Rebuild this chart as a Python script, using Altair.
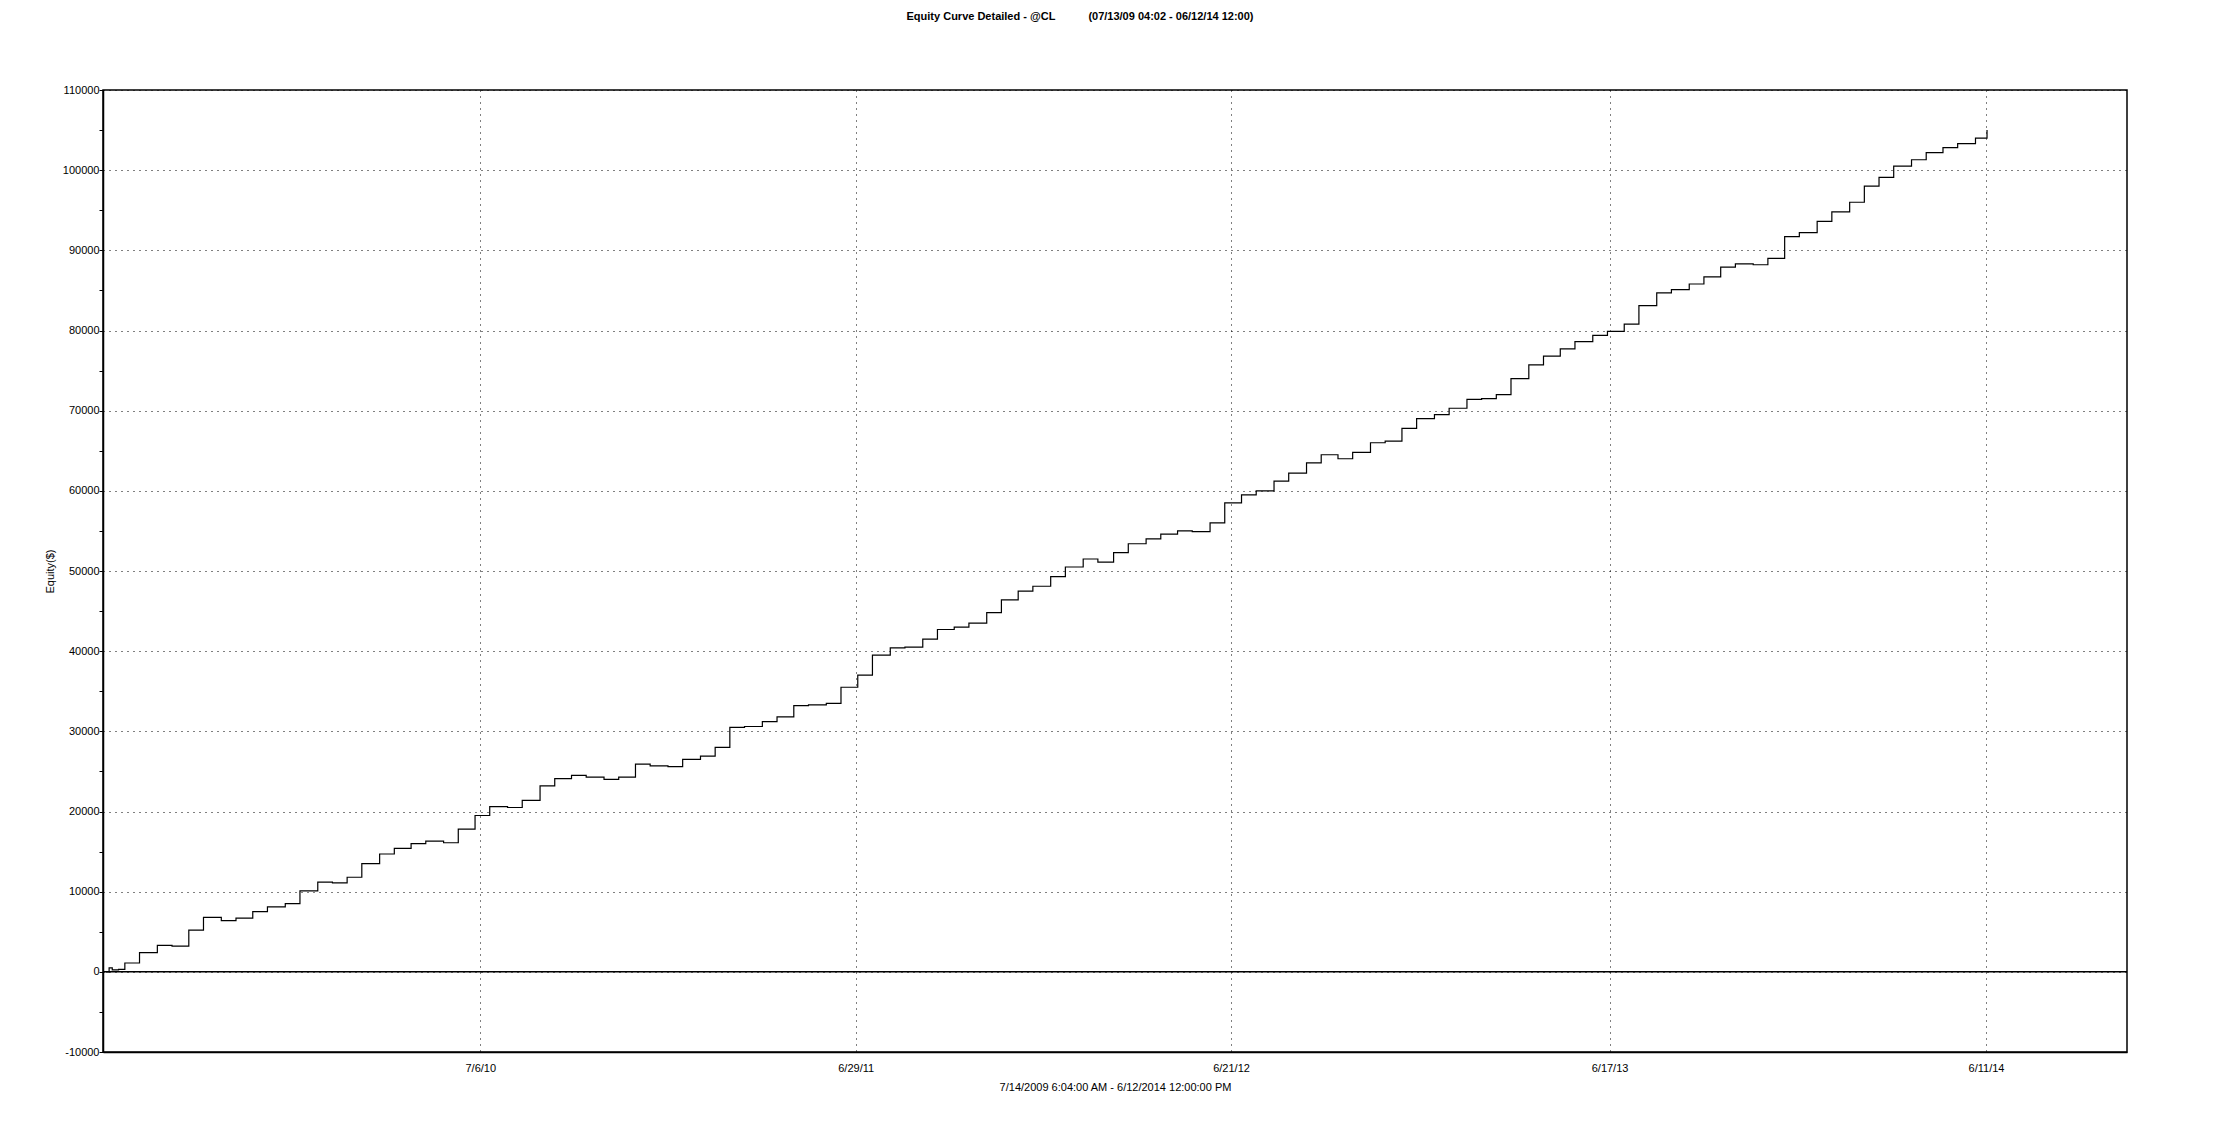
import altair as alt
import pandas as pd

# Equity curve readings (date, equity in $)
dates = [
    "2009-07-14", "2009-07-17", "2009-07-20", "2009-07-26", "2009-08-01", "2009-08-15",
    "2009-09-01", "2009-09-15", "2009-10-01", "2009-10-15", "2009-11-01", "2009-11-15",
    "2009-12-01", "2009-12-15", "2010-01-01", "2010-01-15", "2010-02-01", "2010-02-15",
    "2010-03-01", "2010-03-15", "2010-04-01", "2010-04-15", "2010-05-01", "2010-05-15",
    "2010-06-01", "2010-06-15", "2010-07-01", "2010-07-15", "2010-08-01", "2010-08-15",
    "2010-09-01", "2010-09-15", "2010-10-01", "2010-10-15", "2010-11-01", "2010-11-15",
    "2010-12-01", "2010-12-15", "2011-01-01", "2011-01-15", "2011-02-01", "2011-02-15",
    "2011-03-01", "2011-03-15", "2011-04-01", "2011-04-15", "2011-05-01", "2011-05-15",
    "2011-06-01", "2011-06-15", "2011-07-01", "2011-07-15", "2011-08-01", "2011-08-15",
    "2011-09-01", "2011-09-15", "2011-10-01", "2011-10-15", "2011-11-01", "2011-11-15",
    "2011-12-01", "2011-12-15", "2012-01-01", "2012-01-15", "2012-02-01", "2012-02-15",
    "2012-03-01", "2012-03-15", "2012-04-01", "2012-04-15", "2012-05-01", "2012-05-15",
    "2012-06-01", "2012-06-15", "2012-07-01", "2012-07-15", "2012-08-01", "2012-08-15",
    "2012-09-01", "2012-09-15", "2012-10-01", "2012-10-15", "2012-11-01", "2012-11-15",
    "2012-12-01", "2012-12-15", "2013-01-01", "2013-01-15", "2013-02-01", "2013-02-15",
    "2013-03-01", "2013-03-15", "2013-04-01", "2013-04-15", "2013-05-01", "2013-05-15",
    "2013-06-01", "2013-06-15", "2013-07-01", "2013-07-15", "2013-08-01", "2013-08-15",
    "2013-09-01", "2013-09-15", "2013-10-01", "2013-10-15", "2013-11-01", "2013-11-15",
    "2013-12-01", "2013-12-15", "2014-01-01", "2014-01-15", "2014-02-01", "2014-02-15",
    "2014-03-01", "2014-03-15", "2014-04-01", "2014-04-15", "2014-05-01", "2014-05-15",
    "2014-06-01", "2014-06-12",
]
equity = [
    0, 500, 250, 300, 1100, 2400,
    3300, 3200, 5200, 6800, 6400, 6700,
    7500, 8100, 8500, 10100, 11200, 11100,
    11800, 13500, 14700, 15400, 16000, 16300,
    16100, 17800, 19500, 20600, 20500, 21400,
    23200, 24100, 24500, 24300, 24000, 24300,
    25900, 25700, 25600, 26500, 26900, 28000,
    30500, 30600, 31200, 31800, 33200, 33300,
    33500, 35500, 37000, 39500, 40400, 40500,
    41500, 42700, 43000, 43500, 44800, 46400,
    47500, 48100, 49300, 50500, 51500, 51100,
    52300, 53400, 54000, 54600, 55000, 54900,
    56000, 58500, 59500, 60000, 61200, 62200,
    63500, 64500, 64000, 64800, 66000, 66200,
    67800, 69000, 69500, 70300, 71400, 71500,
    72000, 74000, 75700, 76800, 77700, 78600,
    79400, 79900, 80800, 83100, 84700, 85100,
    85800, 86700, 87900, 88300, 88200, 89000,
    91700, 92200, 93600, 94800, 96000, 98000,
    99100, 100500, 101300, 102200, 102800, 103300,
    104000, 105000,
]

x_tick_dates = [(2010, 7, 6), (2011, 6, 29), (2012, 6, 21), (2013, 6, 17), (2014, 6, 11)]
y_ticks = list(range(-10000, 110001, 5000))

df = pd.DataFrame({"date": dates, "equity": equity})
zero_df = pd.DataFrame({"y": [0]})

FONT = "Liberation Sans"

x_scale = alt.Scale(
    type="utc",
    domain=[alt.DateTime(year=2009, month=7, date=11, hours=4, utc=True),
            alt.DateTime(year=2014, month=10, date=23, hours=12, utc=True)],
)
y_scale = alt.Scale(domain=[-10000, 110000], nice=False, zero=False)

x_axis = alt.Axis(
    values=[alt.DateTime(year=y, month=m, date=d, utc=True) for (y, m, d) in x_tick_dates],
    labelExpr="utcFormat(datum.value, '%-m/%-d/%y')",
    title="7/14/2009 6:04:00 AM - 6/12/2014 12:00:00 PM",
    grid=True, gridColor="#000000", gridDash=[1, 5], gridWidth=1,
    ticks=False, labelPadding=10, labelFontSize=11, labelFont=FONT, labelColor="#000",
    titleFont=FONT, titleFontSize=11, titleFontWeight="normal", titleColor="#000",
    titlePadding=8, domainColor="#000", domainWidth=1.5, labelFlush=False,
)
y_axis = alt.Axis(
    values=y_ticks,
    labelExpr="datum.value % 10000 === 0 ? '' + datum.value : ''",
    title="Equity($)",
    grid=True, gridColor="#000000", gridDash=[1, 5], gridWidth=1,
    gridOpacity={"condition": {"test": "datum.value % 10000 === 0", "value": 1}, "value": 0},
    tickSize=4, tickColor="#000", tickWidth=1,
    labelPadding=0, labelFontSize=11, labelFont=FONT, labelColor="#000",
    titleFont=FONT, titleFontSize=11, titleFontWeight="normal", titleColor="#000",
    titlePadding=7, domainColor="#000", domainWidth=1.5,
)

line = alt.Chart(df).mark_line(
    interpolate="step-after", color="#000000", strokeWidth=1.2
).encode(
    x=alt.X("date:T", scale=x_scale, axis=x_axis),
    y=alt.Y("equity:Q", scale=y_scale, axis=y_axis),
)

zero_rule = alt.Chart(zero_df).mark_rule(color="#000000", strokeWidth=1.5).encode(
    y=alt.Y("y:Q", scale=y_scale)
)

chart = alt.layer(line, zero_rule).properties(
    width=2024,
    height=962,
    autosize=alt.AutoSizeParams(type="none"),
    padding={"left": 95, "top": 82, "right": 70, "bottom": 55},
    background="white",
    title=alt.TitleParams(
        text="Equity Curve Detailed - @CL\u2003\u2003\u2003(07/13/09 04:02 - 06/12/14 12:00)",
        font=FONT, fontSize=11, fontWeight="bold", color="#000",
        anchor="middle", dx=-35, offset=62,
    ),
).configure_view(stroke="#000000", strokeWidth=1.5)

chart.save("out.html", embed_options={"renderer": "svg", "actions": False})
